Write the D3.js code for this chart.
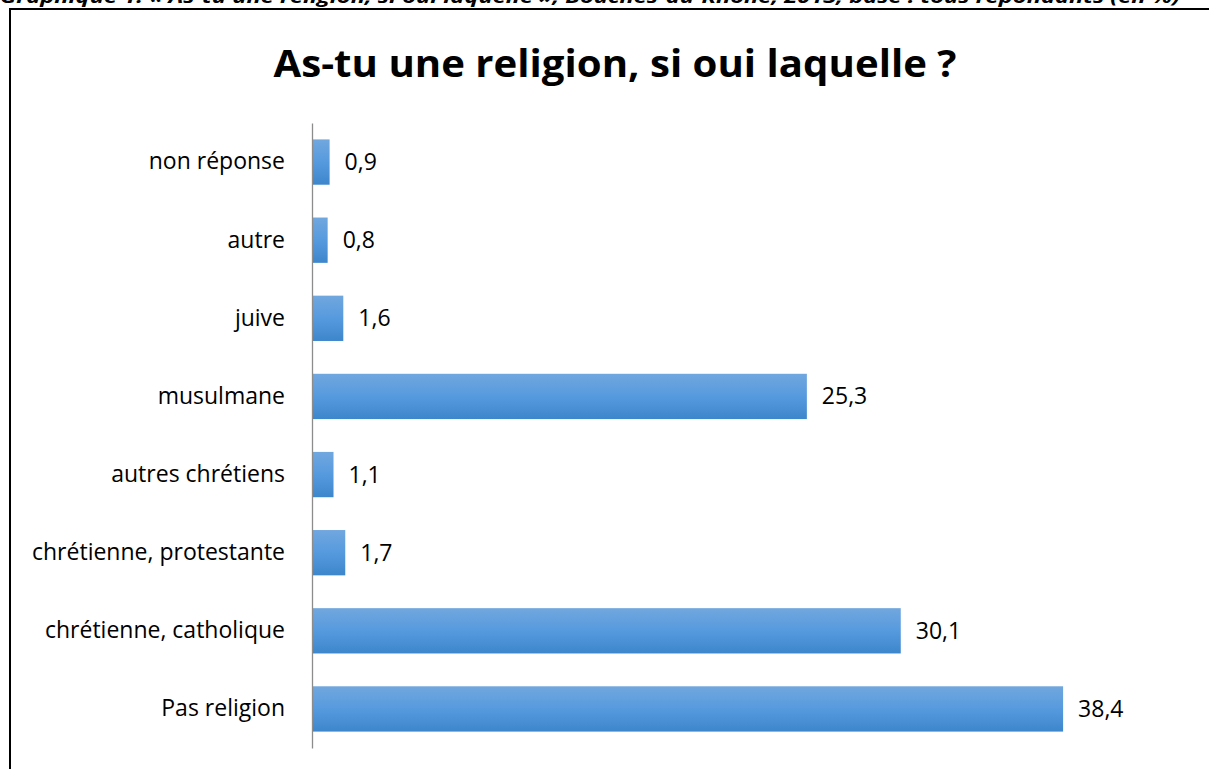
<!DOCTYPE html>
<html><head><meta charset="utf-8">
<script src="https://cdn.jsdelivr.net/npm/d3@7"></script>
<style>html,body{margin:0;padding:0;background:#fff;overflow:hidden}</style>
</head><body>
<svg id="c" width="1209" height="769"></svg>
<script>
const categories = ["non réponse","autre","juive","musulmane","autres chrétiens","chrétienne, protestante","chrétienne, catholique","Pas religion"];
const values = [0.9, 0.8, 1.6, 25.3, 1.1, 1.7, 30.1, 38.4];
const valueLabels = ["0,9","0,8","1,6","25,3","1,1","1,7","30,1","38,4"];
const title = "As-tu une religion, si oui laquelle ?";
const caption = "Graphique 1. « As-tu une religion, si oui laquelle », Bouches-du-Rhône, 2013, base : tous répondants (en %)";

const svg = d3.select("#c");
const font = "'Open Sans', sans-serif";

const defs = svg.append("defs");
const g = defs.append("linearGradient").attr("id","bg").attr("x1",0).attr("y1",0).attr("x2",0).attr("y2",1);
g.append("stop").attr("offset","0%").attr("stop-color","#71a7de");
g.append("stop").attr("offset","50%").attr("stop-color","#569ade");
g.append("stop").attr("offset","100%").attr("stop-color","#3d86cb");

// caption cut off at top
svg.append("text").attr("x",0).attr("y",3).attr("font-family",font)
  .attr("font-weight","bold").attr("font-style","italic").attr("font-size",17)
  .attr("textLength",1180).attr("lengthAdjust","spacingAndGlyphs").attr("fill","#000").text(caption);

// frame
svg.append("rect").attr("x",10).attr("y",9).attr("width",1240).attr("height",800)
  .attr("fill","none").attr("stroke","#000").attr("stroke-width",2);

svg.append("text").attr("x",615).attr("y",77).attr("text-anchor","middle")
  .attr("font-family",font).attr("font-weight","bold").attr("font-size",38)
  .attr("textLength",683).attr("lengthAdjust","spacingAndGlyphs").attr("fill","#000").text(title);

const x = d3.scaleLinear().domain([0,40]).range([312, 312 + 40*19.56]);
const y = d3.scaleBand().domain(categories).range([123, 748]).paddingInner(0.42).paddingOuter(0.21);

svg.selectAll("rect.bar").data(categories).join("rect").attr("class","bar")
  .attr("x", x(0)).attr("y", d=>y(d))
  .attr("width", (d,i)=>x(values[i])-x(0)).attr("height", y.bandwidth())
  .attr("fill","url(#bg)");

const axis = d3.axisLeft(y).tickSize(0).tickPadding(27);
const ag = svg.append("g").attr("transform",`translate(${x(0)},0)`).call(axis);
ag.select(".domain").attr("stroke","#8c8c8c").attr("stroke-width",1.3);
ag.selectAll("text").attr("font-family",font).attr("font-size",23).attr("fill","#000");

svg.selectAll("text.val").data(categories).join("text").attr("class","val")
  .attr("x",(d,i)=>x(values[i])+15).attr("y",d=>y(d)+y.bandwidth()/2).attr("dy","0.35em")
  .attr("font-family",font).attr("font-size",23).attr("fill","#000")
  .text((d,i)=>valueLabels[i]);
</script>
</body></html>
